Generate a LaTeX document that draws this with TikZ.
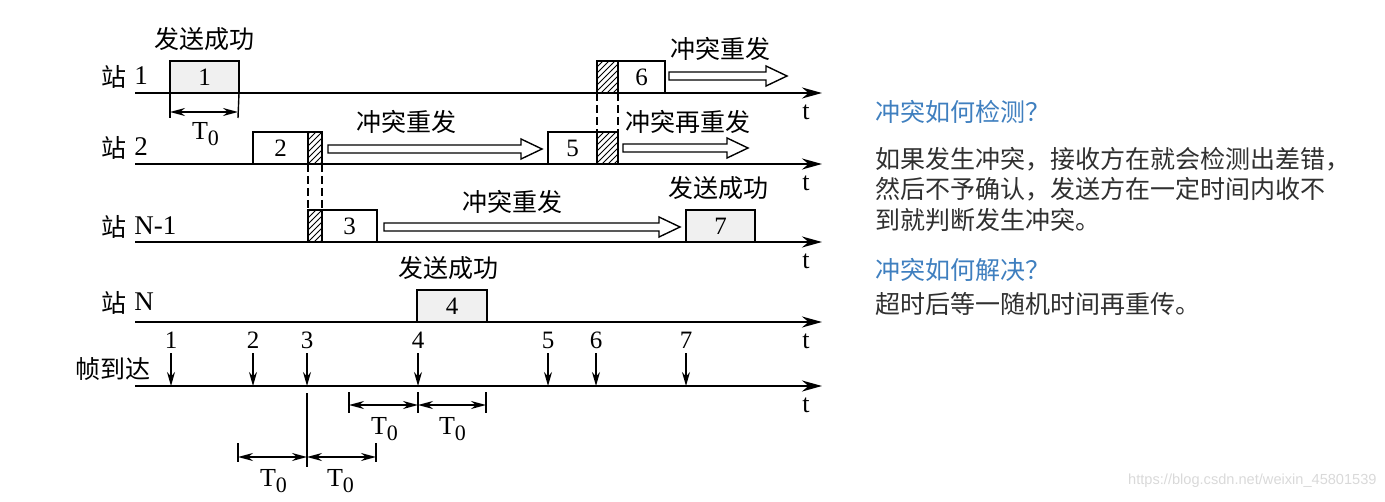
\documentclass[tikz,border=0pt]{standalone}
\usepackage{fontspec}
\setmainfont{Liberation Serif}
\newfontfamily\cjk{Noto Sans CJK SC}
\newfontfamily\websans{Liberation Sans}
\usetikzlibrary{arrows.meta, patterns, positioning}
\definecolor{boxgray}{HTML}{F0F0F0}
\definecolor{qblue}{HTML}{3F7FBF}
\definecolor{bodytext}{HTML}{303030}
\tikzset{
  time axis/.style={-{Stealth[length=10pt,width=5.5pt]}, line width=1pt},
  frame box/.style={draw, line width=0.7pt, fill=white, minimum height=16pt,
    inner sep=0pt, outer sep=0pt, anchor=south west, font=\fontsize{12.5}{14}\selectfont},
  hatch box/.style={frame box, pattern=north east lines},
  dash line/.style={line width=0.7pt, dash pattern=on 4pt off 2pt},
  dim arrow/.style={{Stealth[length=7.5pt,width=4pt]}-{Stealth[length=7.5pt,width=4pt]}, line width=0.7pt},
  arrive/.style={-{Stealth[length=7pt,width=4pt]}, line width=0.7pt},
  cjk label/.style={font=\cjk\fontsize{12.5}{14}\selectfont, inner sep=0pt},
  num/.style={font=\fontsize{12.5}{14}\selectfont, inner sep=0pt},
  tnull/.style={font=\fontsize{13}{15}\selectfont, inner sep=0pt},
}
% hollow arrow: x start, x tip, y
\newcommand{\hollowarrow}[3]{%
  \draw[line width=0.7pt] (#1,{#3-4}) -- ({#2-21},{#3-4}) -- ({#2-21},{#3-10})
    -- (#2,#3) -- ({#2-21},{#3+10}) -- ({#2-21},{#3+4}) -- (#1,{#3+4}) -- cycle;}
\newcommand{\zn}{T\textsubscript{\fontsize{11}{12}\selectfont 0}}
\newcommand{\stn}[1]{站\hspace{4pt}\raisebox{0.8pt}{\normalfont\fontsize{13.5}{15}\selectfont #1}}

\begin{document}
\begin{tikzpicture}[x=0.5pt, y=-0.5pt]
    \useasboundingbox (0,0) rectangle (1385,502);

    % Time axes of the stations
    \foreach \y/\n in {93/1, 164/2, 242/3, 322/4, 386/5} {
      \coordinate (L\n) at (135,\y);
      \coordinate (R\n) at (822,\y);
      \draw[time axis] (L\n) -- (R\n);
      \node[tnull] (t\n) at (806,{\y+19}) {t};
    }

    % Station names
    \node[cjk label, anchor=west] (st1) at (101,77) {\stn{1}};
    \node[cjk label, anchor=west] (st2) at (101,148) {\stn{2}};
    \node[cjk label, anchor=west] (st3) at (101,227) {\stn{N-1}};
    \node[cjk label, anchor=west] (st4) at (101,303) {\stn{N}};
    \node[cjk label, anchor=west] (st5) at (75,369) {帧到达};

    % Frames
    \node[frame box, fill=boxgray, minimum width=34.5pt] (f1) at (170,93) {1};
    \node[frame box, minimum width=27.5pt] (f2) at (253,164) {2};
    \node[hatch box, minimum width=7pt, right=0pt of f2] (c2) {};
    \node[hatch box, minimum width=7pt] (c3) at (308,242) {};
    \node[frame box, minimum width=27.5pt, right=0pt of c3] (f3) {3};
    \node[frame box, fill=boxgray, minimum width=35pt] (f4) at (417,322) {4};
    \node[frame box, minimum width=24.5pt] (f5) at (548,164) {5};
    \node[hatch box, minimum width=10.5pt, right=0pt of f5] (c5) {};
    \node[hatch box, minimum width=10.5pt] (c6) at (597,93) {};
    \node[frame box, minimum width=23.5pt, right=0pt of c6] (f6) {6};
    \node[frame box, fill=boxgray, minimum width=34.5pt] (f7) at (686,242) {7};

    % Collisions
    \draw[dash line] (c2.south west) -- (c3.north west);
    \draw[dash line] (c2.south east) -- (c3.north east);
    \draw[dash line] (c6.south west) -- (c5.north west);
    \draw[dash line] (c6.south east) -- (c5.north east);

    % Retransmissions
    \hollowarrow{328}{542}{149}
    \hollowarrow{384}{680}{227}
    \hollowarrow{669}{787}{76}
    \hollowarrow{623}{748}{148}
    \node[cjk label] (r2) at (406,122) {冲突重发};
    \node[cjk label] (r3) at (512,202) {冲突重发};
    \node[cjk label] (r6) at (720,49) {冲突重发};
    \node[cjk label] (r5) at (688,122) {冲突再重发};

    % Successes
    \node[cjk label] (ok1) at (204,39) {发送成功};
    \node[cjk label] (ok4) at (448,268) {发送成功};
    \node[cjk label] (ok7) at (718,188) {发送成功};

    % T0 under frame 1
    \coordinate (d1a) at (170,118);
    \coordinate (d1b) at (238,118);
    \draw[line width=0.7pt] (f1.south west) -- (d1a);
    \draw[line width=0.7pt] (f1.south east) -- (d1b);
    \draw[dim arrow] (170,112) -- (238,112);
    \node[tnull] (T1) at (206,134) {\zn};

    % Frame arrivals
    \foreach \x/\n in {171/1, 253/2, 307/3, 418/4, 548/5, 596/6, 686/7} {
      \node[num] (a\n) at (\x,340) {\n};
      \coordinate (h\n) at (\x,386);
      \draw[arrive] (\x,353) -- (h\n);
    }

    % Vulnerable period around frame 3
    \coordinate (v3a) at (307,393);
    \coordinate (v3b) at (307,467);
    \draw[line width=0.7pt] (v3a) -- (v3b);
    \draw[line width=0.7pt] (238,443) -- (238,462);
    \draw[line width=0.7pt] (376,443) -- (376,462);
    \draw[dim arrow] (238,457) -- (307,457);
    \draw[dim arrow] (307,457) -- (376,457);
    \node[tnull] (T2) at (274,481) {\zn};
    \node[tnull] (T3) at (341,481) {\zn};

    % Vulnerable period around frame 4
    \foreach \x in {349, 418, 486} {
      \draw[line width=0.7pt] (\x,392) -- (\x,413);
    }
    \draw[dim arrow] (349,405) -- (418,405);
    \draw[dim arrow] (418,405) -- (486,405);
    \node[tnull] (T4) at (385,429) {\zn};
    \node[tnull] (T5) at (453,429) {\zn};

    % Notes on the right
    \node[cjk label, anchor=west, text=qblue] (q1) at (875,112) {冲突如何检测？};
    \node[cjk label, anchor=west, text=bodytext] (b1) at (875,159) {如果发生冲突，接收方在就会检测出差错，};
    \node[cjk label, anchor=west, text=bodytext] (b2) at (875,189) {然后不予确认，发送方在一定时间内收不};
    \node[cjk label, anchor=west, text=bodytext] (b3) at (875,220) {到就判断发生冲突。};
    \node[cjk label, anchor=west, text=qblue] (q2) at (875,270) {冲突如何解决？};
    \node[cjk label, anchor=west, text=bodytext] (b4) at (875,304) {超时后等一随机时间再重传。};

    % Watermark
    \node[font=\websans\fontsize{7.3}{9}\selectfont, text=black!15, anchor=east, inner sep=0pt] (wm) at (1377,481) {https://blog.csdn.net/weixin\_45801539};
\end{tikzpicture}
\end{document}
